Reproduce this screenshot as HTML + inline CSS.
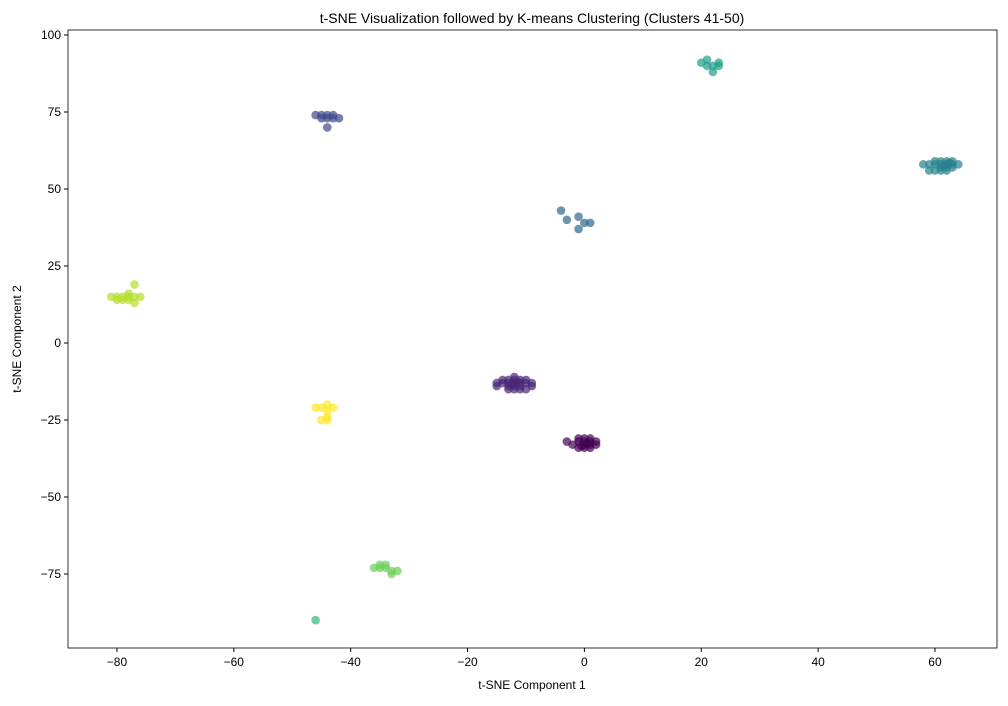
<!DOCTYPE html>
<html><head><meta charset="utf-8"><style>
body{margin:0;background:#fff;font-family:"Liberation Sans",sans-serif;}
svg text{font-family:"Liberation Sans",sans-serif;fill:#000;}
</style></head><body>
<svg id="chart" width="1008" height="701" xmlns="http://www.w3.org/2000/svg">
<rect x="0" y="0" width="1008" height="701" fill="#fff"/>
<text x="532" y="23" text-anchor="middle" font-size="14">t-SNE Visualization followed by K-means Clustering (Clusters 41-50)</text>
<g id="marks"></g>
<g id="axes"></g>
<text x="532" y="689" text-anchor="middle" font-size="12">t-SNE Component 1</text>
<text transform="translate(21,339) rotate(-90)" text-anchor="middle" font-size="12">t-SNE Component 2</text>
</svg>
<script>
const xTicks=[-80,-60,-40,-20,0,20,40,60];
const yTicks=[-75,-50,-25,0,25,50,75,100];
const clusterColors=["#440154","#482878","#3e4989","#31688e","#26828e","#1f9e89","#35b779","#6ece58","#b5de2b","#fde725"];
const c0=[[0,-33],[-1,-32],[1,-31],[2,-32],[0,-34],[-2,-33],[1,-33],[0,-31],[-1,-34],[1,-34],[-1,-31],[0,-32],[2,-33],[-3,-32],[1,-32],[0.5,-32.5],[-0.5,-33.5]];
const c1=[[-12,-13],[-13,-12],[-11,-14],[-14,-13],[-10,-13],[-12,-15],[-13,-14],[-11,-12],[-15,-14],[-9,-14],[-12,-12],[-10,-15],[-14,-12],[-11,-13],[-13,-15],[-12,-14],[-10,-12],[-15,-13],[-9,-13],[-13,-13],[-11,-15],[-12,-11],[-12.5,-13.5],[-11.5,-12.5]];
const c2=[[-46,74],[-45,73],[-44,74],[-43,73],[-42,73],[-44,73],[-45,74],[-43,74],[-44,70]];
const c3=[[-4,43],[-3,40],[-1,41],[0,39],[-1,37],[1,39]];
const c4=[[58,58],[59,56],[60,58],[61,57],[62,58],[63,57],[61,59],[62,56],[63,59],[64,58],[60,56],[61,58],[62,59],[60,59],[62,57],[63,58],[59,58],[61,56],[61.5,57.5],[62.5,58.5]];
const c5=[[20,91],[21,92],[22,90],[23,91],[22,88],[21,90],[23,90]];
const c6=[[-46,-90]];
const c7=[[-36,-73],[-35,-72],[-34,-73],[-33,-74],[-32,-74],[-33,-75],[-35,-73],[-34,-72]];
const c8=[[-81,15],[-80,15],[-79,14],[-78,15],[-77,15],[-78,16],[-77,19],[-77,13],[-79,15],[-80,14],[-78,14],[-76,15]];
const c9=[[-46,-21],[-45,-21],[-44,-20],[-44,-22],[-44,-25],[-45,-25],[-43,-21],[-44,-24]];
const clusters=[c0,c1,c2,c3,c4,c5,c6,c7,c8,c9];
const L=68,R=997,T=30,B=648;
const sx=v=>584.4+v*5.843;
const sy=v=>343-v*3.08;
const NS="http://www.w3.org/2000/svg";
const marks=document.getElementById('marks');
clusters.forEach((pts,ci)=>{pts.forEach(p=>{
 const c=document.createElementNS(NS,'circle');
 
 
 c.setAttribute('cx',sx(p[0]));c.setAttribute('cy',sy(p[1]));c.setAttribute('r',4.3);
 c.setAttribute('fill',clusterColors[ci]);c.setAttribute('fill-opacity',0.7);
 marks.appendChild(c);});});
const ax=document.getElementById('axes');
const fr=document.createElementNS(NS,'rect');


fr.setAttribute('x',L);fr.setAttribute('y',T);fr.setAttribute('width',R-L);fr.setAttribute('height',B-T);
fr.setAttribute('fill','none');fr.setAttribute('stroke','#000');fr.setAttribute('stroke-width',0.8);
ax.appendChild(fr);
xTicks.forEach(v=>{const x=sx(v);
 const l=document.createElementNS(NS,'line');
 
 
 l.setAttribute('x1',x);l.setAttribute('x2',x);l.setAttribute('y1',B);l.setAttribute('y2',B+4);l.setAttribute('stroke','#000');ax.appendChild(l);
 const t=document.createElementNS(NS,'text');
 
 
 t.setAttribute('x',x);t.setAttribute('y',B+18);t.setAttribute('text-anchor','middle');t.setAttribute('font-size','12');
 t.textContent=v<0?'\u2212'+(-v):v;ax.appendChild(t);});
yTicks.forEach(v=>{const y=sy(v);
 const l=document.createElementNS(NS,'line');
 
 
 l.setAttribute('x1',L-4);l.setAttribute('x2',L);l.setAttribute('y1',y);l.setAttribute('y2',y);l.setAttribute('stroke','#000');ax.appendChild(l);
 const t=document.createElementNS(NS,'text');
 
 
 t.setAttribute('x',L-7);t.setAttribute('y',y+4);t.setAttribute('text-anchor','end');t.setAttribute('font-size','12');
 t.textContent=v<0?'\u2212'+(-v):v;ax.appendChild(t);});
</script>
</body></html>
